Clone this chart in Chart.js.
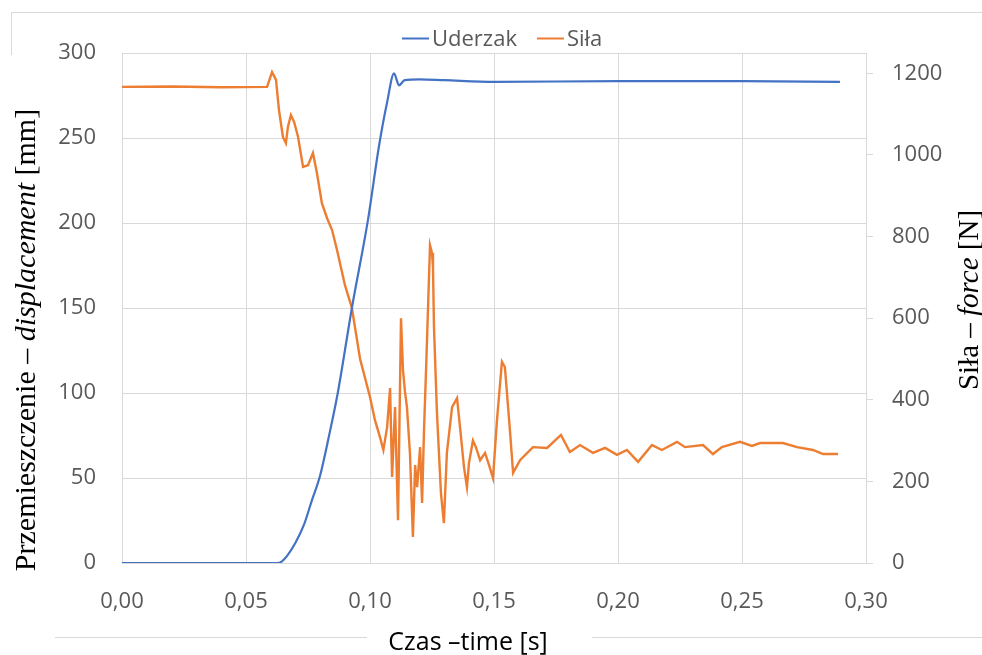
<!DOCTYPE html>
<html lang="pl">
<head>
<meta charset="utf-8">
<title>Uderzak – siła</title>
<script src="https://cdn.jsdelivr.net/npm/chart.js@4.4.1/dist/chart.umd.min.js"></script>
<style>
  html, body { margin: 0; padding: 0; background: #fff; }
  #wrap { width: 982px; height: 655px; }
</style>
</head>
<body>
<div id="wrap"><canvas id="chart" width="982" height="655"></canvas></div>
<script>
'use strict';

// impactor displacement [mm] vs time [s]
const uderzakTime = [0, 0.02, 0.04, 0.0625, 0.0645, 0.0665, 0.070, 0.0735, 0.0766, 0.0798, 0.0835,
  0.087, 0.0927, 0.0992, 0.1036, 0.1069, 0.1097, 0.1117, 0.114, 0.120, 0.130, 0.150, 0.200, 0.250, 0.2895];
const uderzakDisp = [0, 0, 0, 0, 1, 4, 12, 23, 37, 51, 75,
  100, 150, 202, 245, 271, 288, 281, 284, 284.5, 284, 283, 283.5, 283.5, 283];

// measured force [N] vs time [s]
const silaTime = [0, 0.02, 0.04, 0.0585, 0.0605, 0.0621, 0.0633, 0.0649, 0.0661, 0.0669, 0.0681,
  0.0694, 0.0710, 0.0730, 0.0750, 0.0770, 0.0786, 0.0806, 0.0827, 0.0847, 0.0867, 0.0899, 0.0927,
  0.0960, 0.1000, 0.1020, 0.1040, 0.1054, 0.1069, 0.1081, 0.1089, 0.1101, 0.1113, 0.1125, 0.1133,
  0.1141, 0.1149, 0.1161, 0.1173, 0.1182, 0.1190, 0.1202, 0.1210, 0.1218, 0.1226, 0.1242, 0.1250,
  0.1254, 0.1258, 0.1270, 0.1286, 0.1298, 0.1310, 0.1331, 0.1351, 0.1363, 0.1379, 0.1391, 0.1399,
  0.1415, 0.1427, 0.1444, 0.1464, 0.1480, 0.1496, 0.1512, 0.1532, 0.1544, 0.1565, 0.1577, 0.1605,
  0.1657, 0.1714, 0.1770, 0.1806, 0.1847, 0.1899, 0.1948, 0.1996, 0.2036, 0.2081, 0.2137, 0.2177,
  0.2238, 0.2270, 0.2343, 0.2383, 0.2419, 0.2492, 0.2540, 0.2573, 0.2665, 0.2722, 0.2786, 0.2827, 0.2887];
const silaForce = [1167, 1168, 1166, 1167, 1203, 1184, 1110, 1044, 1029, 1069, 1098,
  1081, 1044, 971, 975, 1005, 956, 882, 845, 816, 767, 681, 625,
  500, 407, 350, 309, 277, 333, 429, 211, 382, 105, 600, 473,
  420, 382, 270, 64, 240, 186, 284, 147, 330, 473, 779, 760,
  725, 578, 368, 172, 98, 270, 382, 404, 333, 235, 186, 245,
  300, 284, 252, 270, 240, 208, 350, 493, 480, 319, 221, 252,
  284, 282, 314, 272, 289, 270, 282, 265, 277, 248, 289, 277,
  297, 284, 289, 267, 284, 297, 287, 294, 294, 284, 277, 267, 267];

// axis ranges and tick marks
const xTicks = [0, 0.05, 0.10, 0.15, 0.20, 0.25, 0.30];
const leftTicks = [0, 50, 100, 150, 200, 250, 300];
const rightTicks = [0, 200, 400, 600, 800, 1000, 1200];
const rightMax = 1250;

const toPoints = (xs, ys) => xs.map((x, i) => ({ x: x, y: ys[i] }));

const gridColor = '#d9d9d9';
const tickColor = '#595959';
const sansFont = '"Open Sans", "DejaVu Sans", sans-serif';
const serifFont = '"Liberation Serif", "DejaVu Serif", serif';

// draws a string made of plain and italic pieces, centred on (cx, cy)
function drawRich(ctx, parts, cx, cy, size, family) {
  let total = 0;
  parts.forEach(p => {
    ctx.font = (p.italic ? 'italic ' : '') + size + 'px ' + family;
    p.w = ctx.measureText(p.text).width;
    total += p.w;
  });
  let x = cx - total / 2;
  parts.forEach(p => {
    ctx.font = (p.italic ? 'italic ' : '') + size + 'px ' + family;
    ctx.fillText(p.text, x, cy);
    x += p.w;
  });
}

const decorations = {
  id: 'decorations',
  afterDraw(chart) {
    const ctx = chart.ctx;
    ctx.save();

    // outer frame pieces
    ctx.strokeStyle = gridColor;
    ctx.lineWidth = 1;
    ctx.beginPath();
    ctx.moveTo(11, 12.5); ctx.lineTo(982, 12.5);
    ctx.moveTo(11.5, 12); ctx.lineTo(11.5, 55);
    ctx.moveTo(55, 637.5); ctx.lineTo(367, 637.5);
    ctx.moveTo(592, 637.5); ctx.lineTo(982, 637.5);
    ctx.stroke();

    // legend
    ctx.textAlign = 'left';
    ctx.textBaseline = 'alphabetic';
    ctx.font = '22px ' + sansFont;
    let lx = 402;
    chart.data.datasets.forEach(ds => {
      ctx.strokeStyle = ds.borderColor;
      ctx.lineWidth = 2;
      ctx.beginPath();
      ctx.moveTo(lx, 38.5);
      ctx.lineTo(lx + 27, 38.5);
      ctx.stroke();
      ctx.fillStyle = tickColor;
      ctx.fillText(ds.label, lx + 30, 46);
      lx += 30 + ctx.measureText(ds.label).width + 20;
    });

    // axis titles
    ctx.fillStyle = '#000';
    ctx.textBaseline = 'middle';

    ctx.save();
    ctx.translate(27, 340);
    ctx.rotate(-Math.PI / 2);
    drawRich(ctx, [
      { text: 'Przemieszczenie – ' },
      { text: 'displacement', italic: true },
      { text: ' [mm]' }
    ], 0, 0, 30, serifFont);
    ctx.restore();

    ctx.save();
    ctx.translate(970, 300);
    ctx.rotate(-Math.PI / 2);
    drawRich(ctx, [
      { text: 'Siła – ' },
      { text: 'force', italic: true },
      { text: ' [N]' }
    ], 0, 0, 29, serifFont);
    ctx.restore();

    ctx.textBaseline = 'alphabetic';
    drawRich(ctx, [{ text: 'Czas –time [s]' }], 468, 650, 25, sansFont);

    ctx.restore();
  }
};

const data = {
  datasets: [
    {
      label: 'Uderzak',
      data: toPoints(uderzakTime, uderzakDisp),
      borderColor: '#4472C4',
      borderWidth: 2.2,
      pointRadius: 0,
      cubicInterpolationMode: 'monotone',
      yAxisID: 'y'
    },
    {
      label: 'Siła',
      data: toPoints(silaTime, silaForce),
      borderColor: '#ED7D31',
      borderWidth: 2.4,
      pointRadius: 0,
      tension: 0,
      yAxisID: 'y1'
    }
  ]
};

const config = {
  type: 'line',
  data: data,
  options: {
    responsive: false,
    animation: false,
    devicePixelRatio: 1,
    layout: { padding: { top: 53, left: 0, right: 0, bottom: 0 } },
    plugins: {
      legend: { display: false },
      tooltip: { enabled: false }
    },
    scales: {
      x: {
        type: 'linear',
        min: 0,
        max: 0.3,
        afterBuildTicks: scale => { scale.ticks = xTicks.map(v => ({ value: v })); },
        afterFit: scale => { scale.height = 92; },
        grid: { color: gridColor, drawTicks: false },
        border: { display: false },
        ticks: {
          padding: 26,
          color: tickColor,
          font: { family: sansFont, size: 22 },
          maxRotation: 0,
          callback: v => v.toFixed(2).replace('.', ',')
        }
      },
      y: {
        position: 'left',
        min: 0,
        max: 300,
        afterBuildTicks: scale => { scale.ticks = leftTicks.map(v => ({ value: v })); },
        afterFit: scale => { scale.width = 122; },
        grid: { color: gridColor, drawTicks: false },
        border: { display: false },
        ticks: {
          padding: 26,
          color: tickColor,
          font: { family: sansFont, size: 22 },
          callback: v => String(v)
        }
      },
      y1: {
        position: 'right',
        min: 0,
        max: rightMax,
        afterBuildTicks: scale => { scale.ticks = rightTicks.map(v => ({ value: v })); },
        afterFit: scale => { scale.width = 116; },
        grid: { drawOnChartArea: false, color: gridColor, drawTicks: true, tickLength: 7 },
        border: { display: true, color: gridColor },
        ticks: {
          padding: 19,
          color: tickColor,
          font: { family: sansFont, size: 22 },
          callback: v => String(v)
        }
      }
    }
  },
  plugins: [decorations]
};

new Chart(document.getElementById('chart'), config);
</script>
</body>
</html>
